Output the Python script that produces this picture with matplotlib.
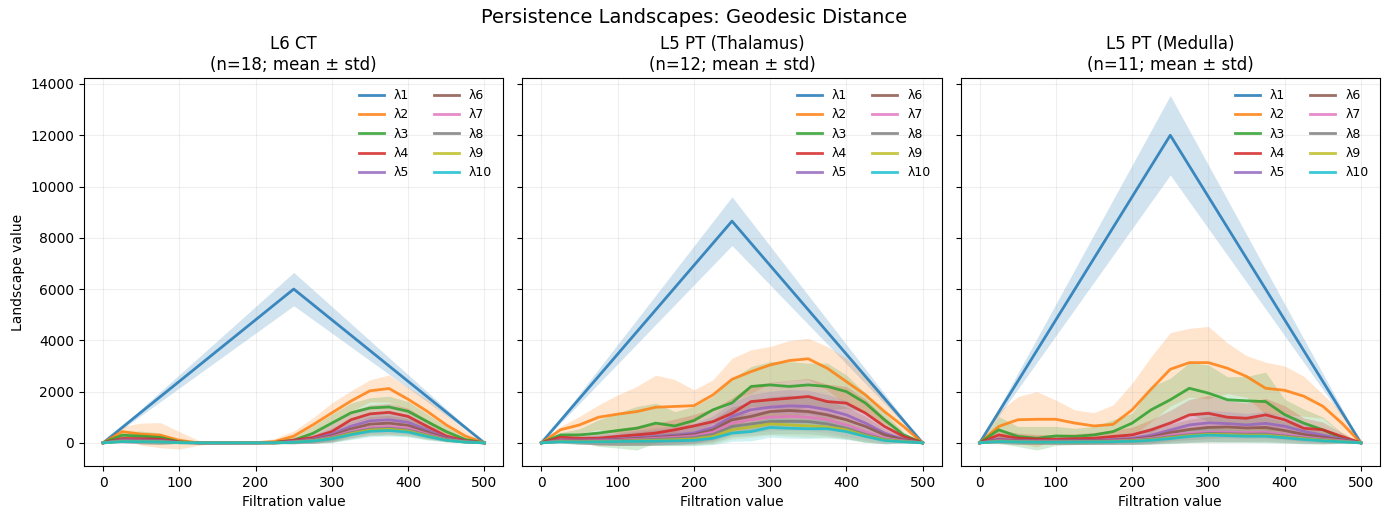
import numpy as np
import matplotlib
matplotlib.use("Agg")
import matplotlib.pyplot as plt

# filtration grid (step 25) used for lambda 2..10; lambda 1 is a plain triangle
filt = [0, 25, 50, 75, 100, 125, 150, 175, 200, 225, 250,
        275, 300, 325, 350, 375, 400, 425, 450, 475, 500]
tri_x = [0, 250, 500]

titles = ["L6 CT\n(n=18; mean \u00b1 std)",
          "L5 PT (Thalamus)\n(n=12; mean \u00b1 std)",
          "L5 PT (Medulla)\n(n=11; mean \u00b1 std)"]
labels = ["\u03bb%d" % k for k in range(1, 11)]

# lambda 1 (mean, std) at 0 / 250 / 500
ct_l1 = [0, 6000, 0]
ct_l1_sd = [0, 650, 0]
thal_l1 = [0, 8650, 0]
thal_l1_sd = [0, 950, 0]
med_l1 = [0, 12000, 0]
med_l1_sd = [0, 1550, 0]

# L6 CT, lambda 2..10
ct_means = [
    [0, 440, 340, 300, 100, 0, 0, 0, 10, 50, 265, 700, 1170, 1630, 2030, 2120, 1700, 1230, 700, 265, 0],
    [0, 300, 260, 210, 40, 0, 0, 0, 0, 20, 100, 370, 770, 1170, 1360, 1400, 1230, 830, 440, 130, 0],
    [0, 170, 160, 140, 30, 0, 0, 0, 0, 10, 100, 210, 440, 900, 1130, 1190, 1030, 640, 265, 80, 0],
    [0, 120, 110, 90, 20, 0, 0, 0, 0, 5, 60, 150, 340, 650, 860, 900, 800, 500, 200, 60, 0],
    [0, 100, 90, 70, 15, 0, 0, 0, 0, 5, 50, 120, 280, 540, 730, 770, 680, 420, 170, 50, 0],
    [0, 80, 70, 55, 10, 0, 0, 0, 0, 0, 40, 100, 230, 450, 600, 640, 570, 350, 140, 40, 0],
    [0, 70, 60, 45, 8, 0, 0, 0, 0, 0, 30, 90, 200, 400, 540, 570, 500, 310, 120, 35, 0],
    [0, 60, 50, 40, 5, 0, 0, 0, 0, 0, 25, 80, 180, 360, 500, 530, 460, 280, 110, 30, 0],
    [0, 50, 45, 35, 5, 0, 0, 0, 0, 0, 20, 70, 160, 320, 450, 480, 420, 250, 100, 25, 0],
]
ct_stds = [
    [0, 200, 430, 490, 340, 100, 0, 0, 30, 120, 200, 270, 390, 400, 430, 530, 460, 470, 400, 235, 0],
    [0, 150, 200, 180, 60, 10, 0, 0, 10, 60, 150, 280, 350, 380, 400, 420, 380, 300, 200, 80, 0],
    [0, 120, 150, 150, 50, 0, 0, 0, 0, 40, 120, 200, 300, 340, 350, 350, 320, 260, 150, 50, 0],
    [0, 100, 130, 130, 40, 0, 0, 0, 0, 30, 90, 160, 250, 300, 320, 330, 300, 230, 120, 40, 0],
    [0, 90, 120, 120, 35, 0, 0, 0, 0, 25, 80, 140, 220, 270, 290, 300, 270, 200, 100, 35, 0],
    [0, 80, 110, 110, 30, 0, 0, 0, 0, 20, 70, 120, 190, 240, 260, 270, 240, 180, 90, 30, 0],
    [0, 70, 100, 100, 25, 0, 0, 0, 0, 15, 60, 110, 170, 220, 240, 250, 220, 160, 80, 25, 0],
    [0, 60, 90, 90, 20, 0, 0, 0, 0, 10, 50, 100, 160, 200, 220, 230, 200, 150, 70, 20, 0],
    [0, 50, 80, 80, 20, 0, 0, 0, 0, 10, 40, 90, 150, 190, 210, 220, 190, 140, 60, 20, 0],
]

# L5 PT (Thalamus), lambda 2..10
thal_means = [
    [0, 510, 700, 1000, 1120, 1220, 1390, 1420, 1450, 1870, 2480, 2780, 3040, 3210, 3280, 2910, 2390, 1870, 1220, 640, 0],
    [0, 310, 310, 380, 480, 570, 770, 660, 870, 1290, 1560, 2200, 2260, 2200, 2260, 2200, 2000, 1550, 900, 310, 0],
    [0, 220, 180, 180, 250, 310, 380, 510, 660, 830, 1150, 1610, 1680, 1740, 1810, 1610, 1550, 1160, 640, 250, 0],
    [0, 120, 110, 120, 150, 200, 250, 300, 380, 600, 1030, 1290, 1390, 1440, 1420, 1290, 1090, 770, 380, 140, 0],
    [0, 100, 90, 100, 120, 170, 210, 260, 320, 500, 900, 1030, 1220, 1260, 1220, 1090, 900, 640, 310, 120, 0],
    [0, 80, 70, 80, 100, 140, 180, 220, 270, 420, 770, 900, 1000, 1030, 1000, 900, 700, 440, 180, 80, 0],
    [0, 60, 50, 60, 80, 110, 140, 170, 210, 330, 640, 740, 830, 840, 830, 740, 570, 330, 140, 60, 0],
    [0, 50, 40, 50, 60, 80, 100, 120, 150, 250, 510, 620, 740, 700, 660, 620, 510, 280, 120, 50, 0],
    [0, 40, 30, 40, 50, 60, 70, 80, 100, 180, 380, 440, 600, 570, 550, 550, 440, 250, 90, 40, 0],
]
thal_stds = [
    [0, 130, 330, 480, 750, 980, 1250, 1050, 620, 590, 820, 850, 720, 780, 800, 850, 910, 720, 460, 190, 0],
    [0, 90, 240, 520, 680, 850, 780, 560, 550, 520, 950, 780, 910, 970, 850, 910, 650, 390, 260, 130, 0],
    [0, 120, 200, 250, 300, 350, 380, 420, 450, 500, 600, 650, 680, 700, 700, 680, 650, 550, 350, 150, 0],
    [0, 100, 150, 200, 250, 300, 330, 350, 380, 450, 550, 600, 620, 640, 630, 600, 550, 450, 280, 100, 0],
    [0, 90, 130, 180, 220, 260, 290, 310, 340, 400, 500, 550, 580, 600, 580, 550, 500, 400, 240, 90, 0],
    [0, 80, 120, 160, 200, 230, 260, 280, 300, 360, 450, 500, 530, 540, 530, 500, 450, 350, 200, 80, 0],
    [0, 70, 100, 140, 170, 200, 230, 250, 270, 320, 400, 450, 480, 490, 480, 450, 400, 300, 170, 70, 0],
    [0, 60, 90, 120, 150, 180, 200, 220, 240, 290, 360, 400, 430, 440, 430, 400, 350, 260, 150, 60, 0],
    [0, 50, 80, 100, 130, 150, 170, 190, 210, 250, 320, 360, 380, 390, 380, 360, 310, 230, 130, 50, 0],
]

# L5 PT (Medulla), lambda 2..10
med_means = [
    [0, 640, 900, 920, 920, 770, 660, 720, 1290, 2100, 2870, 3130, 3130, 2910, 2590, 2130, 2050, 1820, 1430, 770, 0],
    [0, 510, 250, 180, 270, 250, 310, 440, 770, 1290, 1680, 2130, 1940, 1680, 1640, 1610, 1100, 770, 510, 190, 0],
    [0, 310, 180, 150, 140, 160, 180, 250, 310, 510, 770, 1090, 1150, 1000, 960, 1090, 900, 570, 510, 250, 0],
    [0, 150, 100, 80, 80, 90, 100, 130, 180, 300, 500, 700, 780, 750, 700, 760, 650, 450, 300, 150, 0],
    [0, 120, 80, 60, 60, 70, 80, 100, 140, 230, 400, 520, 600, 620, 580, 600, 480, 330, 220, 110, 0],
    [0, 90, 60, 50, 50, 55, 60, 80, 110, 180, 300, 380, 430, 420, 400, 420, 330, 230, 150, 80, 0],
    [0, 70, 50, 40, 40, 45, 50, 65, 90, 150, 240, 320, 370, 360, 340, 350, 270, 190, 120, 60, 0],
    [0, 60, 40, 30, 30, 35, 40, 55, 75, 120, 200, 280, 330, 320, 300, 300, 230, 160, 100, 50, 0],
    [0, 50, 35, 25, 25, 30, 35, 45, 60, 100, 170, 250, 300, 280, 260, 260, 200, 130, 80, 40, 0],
]
med_stds = [
    [0, 580, 900, 1080, 750, 510, 520, 760, 1040, 1270, 1430, 1340, 1410, 990, 810, 1020, 950, 780, 470, 430, 0],
    [0, 520, 390, 460, 370, 320, 330, 460, 390, 900, 840, 1000, 1100, 900, 950, 1150, 600, 550, 500, 200, 0],
    [0, 200, 200, 180, 180, 200, 220, 250, 300, 400, 500, 600, 700, 650, 600, 650, 550, 400, 300, 150, 0],
    [0, 150, 150, 140, 140, 150, 160, 180, 220, 300, 380, 450, 480, 470, 450, 460, 400, 320, 250, 120, 0],
    [0, 130, 130, 120, 120, 130, 140, 160, 200, 260, 330, 400, 430, 420, 400, 410, 350, 280, 220, 100, 0],
    [0, 110, 110, 100, 100, 110, 120, 140, 170, 220, 280, 340, 370, 360, 340, 350, 300, 240, 180, 90, 0],
    [0, 100, 100, 90, 90, 100, 110, 120, 150, 190, 250, 300, 330, 320, 300, 310, 260, 210, 160, 80, 0],
    [0, 90, 90, 80, 80, 90, 100, 110, 130, 170, 220, 270, 300, 290, 270, 280, 230, 190, 140, 70, 0],
    [0, 80, 80, 70, 70, 80, 90, 100, 120, 150, 200, 240, 270, 260, 240, 250, 210, 170, 120, 60, 0],
]

panels = [
    (ct_l1, ct_l1_sd, ct_means, ct_stds),
    (thal_l1, thal_l1_sd, thal_means, thal_stds),
    (med_l1, med_l1_sd, med_means, med_stds),
]

colors = plt.rcParams['axes.prop_cycle'].by_key()['color']

fig, axes = plt.subplots(1, 3, figsize=(13.89, 5.2), dpi=100, sharey=True)
fig.subplots_adjust(left=0.0605, right=0.9935, top=0.85, bottom=0.104, wspace=0.045)

for i, ax in enumerate(axes):
    l1, l1_sd, means, stds = panels[i]
    # lambda 1
    m = np.array(l1)
    s = np.array(l1_sd)
    ax.fill_between(tri_x, m - s, m + s, color=colors[0], alpha=0.2, linewidth=0)
    ax.plot(tri_x, m, color=colors[0], lw=2, alpha=0.85, label=labels[0])
    # lambda 2..10
    for k in range(9):
        m = np.array(means[k])
        s = np.array(stds[k])
        c = colors[k + 1]
        ax.fill_between(filt, m - s, m + s, color=c, alpha=0.2, linewidth=0)
        ax.plot(filt, m, color=c, lw=2, alpha=0.85, label=labels[k + 1])
    ax.set_title(titles[i], fontsize=12)
    ax.set_xlabel("Filtration value")
    ax.grid(True, alpha=0.2)
    ax.set_xlim(-25, 525)
    ax.legend(loc="upper right", ncol=2, frameon=False, fontsize=9)

axes[0].set_ylabel("Landscape value")
axes[0].set_ylim(-900, 14234)
axes[0].set_yticks(range(0, 14001, 2000))
fig.suptitle("Persistence Landscapes: Geodesic Distance", fontsize=14, y=0.985)
fig.savefig("out.png", dpi=100)
